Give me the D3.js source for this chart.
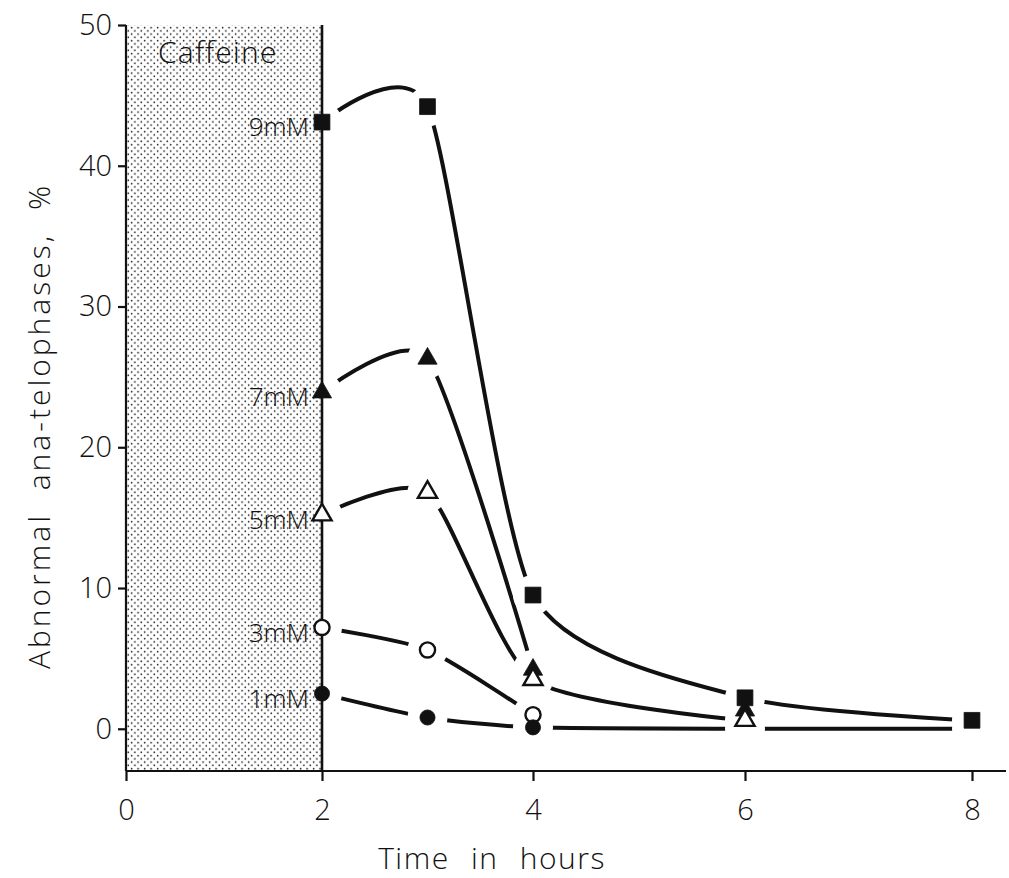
<!DOCTYPE html>
<html>
<head>
<meta charset="utf-8">
<script src="https://cdn.jsdelivr.net/npm/d3@7"></script>
<style>
  html, body { margin: 0; padding: 0; background: #fff; }
  svg { display: block; }
  text { font-family: "Open Sans", "DejaVu Sans", sans-serif; font-weight: 300; fill: #111; }
</style>
</head>
<body>
<svg id="chart" width="1009" height="878"></svg>
<script>
// Sampling times (hours) and percentage of abnormal ana-telophases per caffeine dose
const hours = [2, 3, 4, 6, 8];
const doseLabels = ["9mM", "7mM", "5mM", "3mM", "1mM"];
const dose9mM = [43.1, 44.2, 9.5, 2.2, 0.6];
const dose7mM = [23.9, 26.3, 4.2, 1.3, null];
const dose5mM = [15.2, 16.8, 3.5, 0.6, null];
const dose3mM = [7.2, 5.6, 1.0, null, null];
const dose1mM = [2.5, 0.8, 0.1, 0, 0];
// points that carry a drawn symbol (1mM at 6 and 8 h lies on the baseline without one)
const shown1mM = [true, true, true, false, false];
// how many leading points each curve runs through
const curveLength = [5, 3, 4, 3, 5];

const xTicks = [0, 2, 4, 6, 8];
const yTicks = [0, 10, 20, 30, 40, 50];
const treatmentEnd = 2;

const svg = d3.select("#chart");
const ink = "#111";

// time axis of the printed figure is slightly uneven, so map the tick hours piecewise
const x = d3.scaleLinear().domain(xTicks).range([126, 322, 533, 745, 972]);
const y = d3.scaleLinear().domain([-3, 50]).range([771, 25]);

const series = [
  { label: doseLabels[0], values: dose9mM, shape: "square", filled: true },
  { label: doseLabels[1], values: dose7mM, shape: "triangle", filled: true },
  { label: doseLabels[2], values: dose5mM, shape: "triangle", filled: false },
  { label: doseLabels[3], values: dose3mM, shape: "circle", filled: false },
  { label: doseLabels[4], values: dose1mM, shape: "circle", filled: true, shown: shown1mM }
].map((s, i) => ({
  ...s,
  points: hours.map((h, j) => ({ h, v: s.values[j], show: s.shown ? s.shown[j] : true }))
               .filter(p => p.v !== null),
  n: curveLength[i]
}));

// stippled band marking the caffeine treatment
const defs = svg.append("defs");
const pat = defs.append("pattern")
  .attr("id", "stipple").attr("patternUnits", "userSpaceOnUse")
  .attr("width", 6.5).attr("height", 6.5);
pat.append("rect").attr("width", 6.5).attr("height", 6.5).attr("fill", "#fff");
pat.append("circle").attr("cx", 1.6).attr("cy", 1.6).attr("r", 0.85).attr("fill", "#222");
pat.append("circle").attr("cx", 4.85).attr("cy", 4.85).attr("r", 0.85).attr("fill", "#222");

svg.append("rect")
  .attr("x", x(0)).attr("y", y(50))
  .attr("width", x(treatmentEnd) - x(0))
  .attr("height", y(-3) - y(50))
  .attr("fill", "url(#stipple)");

svg.append("text")
  .attr("x", x(0) + 32).attr("y", y(50) + 38)
  .attr("font-size", 30)
  .attr("letter-spacing", 1.2)
  .text("Caffeine");

// curves are broken around every plotted point
const mask = defs.append("mask").attr("id", "gaps").attr("maskUnits", "userSpaceOnUse")
  .attr("x", 0).attr("y", 0).attr("width", 1009).attr("height", 878);
mask.append("rect").attr("width", 1009).attr("height", 878).attr("fill", "#fff");
series.forEach(s => s.points.forEach(p => {
  mask.append("circle").attr("cx", x(p.h)).attr("cy", y(p.v)).attr("r", 20).attr("fill", "#000");
}));

const line = d3.line()
  .x(p => x(p.h)).y(p => y(p.v))
  .curve(d3.curveCardinal.tension(0.35));

svg.append("g").attr("mask", "url(#gaps)")
  .selectAll("path").data(series).join("path")
  .attr("d", s => line(s.points.slice(0, s.n)))
  .attr("fill", "none").attr("stroke", ink)
  .attr("stroke-width", 4).attr("stroke-linecap", "round");

// axes
const gx = svg.append("g").attr("transform", `translate(0,${y(-3)})`)
  .call(d3.axisBottom(x).tickValues(xTicks).tickSize(10).tickPadding(18).tickFormat(d3.format("d")));
gx.select(".domain").remove();
gx.selectAll(".tick line").attr("stroke", ink).attr("stroke-width", 2.2);
gx.selectAll(".tick text").attr("font-size", 29).attr("font-family", null).attr("fill", ink);
svg.append("line")
  .attr("x1", x(0)).attr("x2", 1006).attr("y1", y(-3)).attr("y2", y(-3))
  .attr("stroke", ink).attr("stroke-width", 2.2);

const gy = svg.append("g").attr("transform", `translate(${x(0)},0)`)
  .call(d3.axisLeft(y).tickValues(yTicks).tickSize(8).tickPadding(6).tickFormat(d3.format("d")));
gy.select(".domain").remove();
gy.selectAll(".tick line").attr("stroke", ink).attr("stroke-width", 2.2);
gy.selectAll(".tick text").attr("font-size", 29).attr("font-family", null).attr("fill", ink);
svg.append("line")
  .attr("x1", x(0)).attr("x2", x(0)).attr("y1", y(50)).attr("y2", y(-3))
  .attr("stroke", ink).attr("stroke-width", 2.2);

// end of treatment
svg.append("line")
  .attr("x1", x(treatmentEnd)).attr("x2", x(treatmentEnd))
  .attr("y1", y(50)).attr("y2", y(-3))
  .attr("stroke", ink).attr("stroke-width", 2.6);

// symbols
const symSize = { square: 250, triangle: 160, circle: 180 };
const symType = { square: d3.symbolSquare, triangle: d3.symbolTriangle, circle: d3.symbolCircle };
const gs = svg.append("g");
series.forEach(s => {
  gs.selectAll(null).data(s.points.filter(p => p.show)).join("path")
    .attr("transform", p => `translate(${x(p.h)},${y(p.v)})`)
    .attr("d", d3.symbol().type(symType[s.shape]).size(symSize[s.shape]))
    .attr("fill", s.filled ? ink : "#fff")
    .attr("stroke", ink).attr("stroke-width", s.filled ? 0.8 : 2.4);
});

// dose labels beside the first point of each curve
svg.append("g").selectAll("text").data(series).join("text")
  .attr("x", s => x(hours[0]) - 13)
  .attr("y", s => y(s.points[0].v) + 5)
  .attr("dy", "0.35em")
  .attr("text-anchor", "end")
  .attr("font-size", 26)
  .text(s => s.label);

// axis titles
svg.append("text")
  .attr("x", 492).attr("y", 869)
  .attr("text-anchor", "middle").attr("font-size", 30)
  .attr("letter-spacing", 1.5).attr("word-spacing", 12)
  .text("Time in hours");

svg.append("text")
  .attr("transform", `translate(50,${426}) rotate(-90)`)
  .attr("text-anchor", "middle").attr("font-size", 30)
  .attr("letter-spacing", 3).attr("word-spacing", 12)
  .text("Abnormal ana-telophases, %");
</script>
</body>
</html>
